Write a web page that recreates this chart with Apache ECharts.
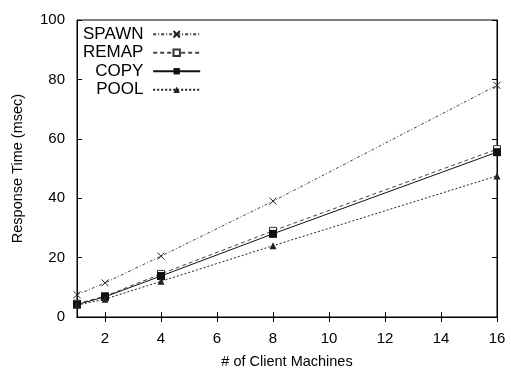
<!DOCTYPE html>
<html>
<head>
<meta charset="utf-8">
<script src="https://cdn.jsdelivr.net/npm/echarts@6/dist/echarts.min.js"></script>
<style>
  html, body { margin: 0; padding: 0; background: #fff; }
  #chart { width: 511px; height: 371px; }
</style>
</head>
<body>
<div id="chart"></div>
<script>
// values
const clients = [1, 2, 4, 8, 16];
const spawn = [7.5, 11.5, 20.5, 39, 78];
const remap = [4.5, 7, 14.5, 29, 56.5];
const copy = [4.2, 6.8, 13.8, 28, 55.5];
const pool = [4, 6, 12, 24, 47.5];
const xTicks = [2, 4, 6, 8, 10, 12, 14, 16];

const font = 'Liberation Sans, Arial, sans-serif';
const crossPath = 'path://M0,0L10,10M10,0L0,10';

const chart = echarts.init(document.getElementById('chart'));

const pairs = arr => clients.map((c, i) => [c, arr[i]]);

const mkSeries = (name, data, lineType, color, symbol, size, itemStyle) => ({
  name,
  type: 'line',
  data: pairs(data),
  symbol,
  symbolSize: size,
  showAllSymbol: true,
  animation: false,
  lineStyle: { color, width: 1, type: lineType },
  itemStyle: Object.assign({ color }, itemStyle || {}),
  emphasis: { disabled: true }
});

chart.setOption({
  backgroundColor: '#fff',
  textStyle: { fontFamily: font, color: '#000' },
  grid: {
    left: 77, right: 14, top: 20, bottom: 54,
    outerBoundsMode: 'none',
    show: true, borderColor: '#000', borderWidth: 1
  },
  legend: {
    orient: 'vertical',
    left: 78,
    top: 20,
    align: 'right',
    itemWidth: 47,
    itemHeight: 8,
    itemGap: 0,
    formatter: '{name} ',
    textStyle: { fontFamily: font, fontSize: 17, lineHeight: 18.5, color: '#000' },
    data: ['SPAWN', 'REMAP', 'COPY', 'POOL']
  },
  xAxis: [{
    type: 'value',
    min: 1,
    max: 16,
    name: '# of Client Machines',
    nameLocation: 'middle',
    nameGap: 37,
    nameTextStyle: { fontFamily: font, fontSize: 14.5, color: '#000' },
    axisLine: { lineStyle: { color: '#000' } },
    axisTick: { inside: true, length: 5, customValues: xTicks, lineStyle: { color: '#000' } },
    axisLabel: { customValues: xTicks, margin: 14, fontSize: 15, color: '#000', fontFamily: font },
    splitLine: { show: false }
  }, {
    type: 'value',
    position: 'top',
    min: 1,
    max: 16,
    axisLine: { lineStyle: { color: '#000' } },
    axisTick: { inside: true, length: 5, customValues: xTicks, lineStyle: { color: '#000' } },
    axisLabel: { show: false },
    splitLine: { show: false }
  }],
  yAxis: [{
    type: 'value',
    min: 0,
    max: 100,
    interval: 20,
    name: 'Response Time (msec)',
    nameLocation: 'middle',
    nameGap: 52,
    nameTextStyle: { fontFamily: font, fontSize: 14.5, color: '#000' },
    axisLine: { show: true, lineStyle: { color: '#000' } },
    axisTick: { show: true, inside: true, length: 5, lineStyle: { color: '#000' } },
    axisLabel: { margin: 12, fontSize: 15, color: '#000', fontFamily: font },
    splitLine: { show: false }
  }, {
    type: 'value',
    position: 'right',
    min: 0,
    max: 100,
    interval: 20,
    axisLine: { show: true, lineStyle: { color: '#000' } },
    axisTick: { show: true, inside: true, length: 5, lineStyle: { color: '#000' } },
    axisLabel: { show: false },
    splitLine: { show: false }
  }],
  series: [
    mkSeries('SPAWN', spawn, [3, 2, 1, 2], '#444', crossPath, 7, { borderColor: '#222', borderWidth: 1 }),
    mkSeries('REMAP', remap, [4, 3], '#444', 'rect', 7, { color: '#fff', borderColor: '#333', borderWidth: 1 }),
    mkSeries('COPY', copy, 'solid', '#111', 'rect', 8),
    mkSeries('POOL', pool, [2, 2], '#222', 'triangle', 7)
  ]
});
</script>
</body>
</html>
